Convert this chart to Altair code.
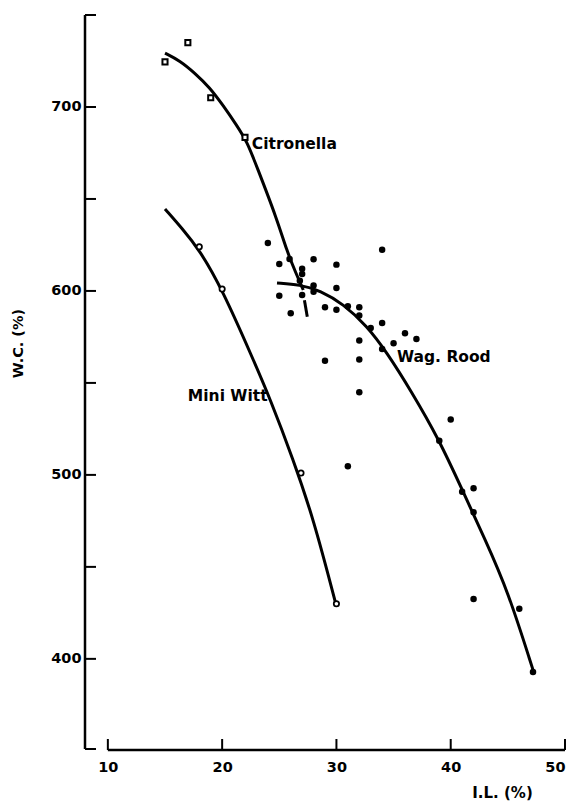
import altair as alt
import pandas as pd

# ---- data ----
# Citronella (open squares)
cit_x = [15.0, 17.0, 19.0, 22.0]
cit_y = [724.5, 735.0, 705.0, 683.5]
cit_curve_x = [15.0, 16.3, 17.6, 18.9, 20.1, 21.3, 22.2, 23.0, 24.8, 25.65, 26.5, 27.1]
cit_curve_y = [729.3, 725.2, 718.5, 710.7, 700.7, 689.8, 680.8, 668.1, 639.1, 621.9, 609.0, 600.5]
cit_dash_x = [27.2, 27.45]
cit_dash_y = [595.0, 586.0]

# Mini Witt (open circles)
mw_x = [18.0, 20.0, 26.9, 30.0]
mw_y = [624.0, 601.0, 501.0, 430.0]
mw_curve_x = [15.0, 16.5, 18.0, 20.0, 22.7, 24.2, 26.2, 28.0, 29.9]
mw_curve_y = [644.6, 634.0, 622.5, 601.0, 563.0, 541.3, 508.7, 476.0, 431.0]

# Wag. Rood (filled dots)
wr_x = [24.0, 25.0, 25.9, 28.0, 30.0, 27.0, 27.0, 26.8, 28.0, 28.0, 30.0, 25.0, 27.0,
        26.0, 29.0, 30.0, 31.0, 32.0, 32.0, 32.0, 29.0, 32.0, 34.0, 33.0, 34.0, 36.0,
        37.0, 35.0, 34.0, 32.0, 40.0, 39.0, 41.0, 42.0, 42.0, 42.0, 46.0, 47.2, 31.0]
wr_y = [626.0, 614.7, 617.4, 617.2, 614.3, 612.0, 609.2, 605.6, 602.9, 599.5, 601.6, 597.4, 597.8,
        587.9, 591.1, 589.8, 591.7, 591.1, 586.6, 573.0, 562.1, 562.7, 622.4, 579.9, 582.6, 577.0,
        573.9, 571.6, 568.5, 544.9, 530.1, 518.6, 490.9, 492.8, 479.7, 432.6, 427.2, 392.8, 504.7]
wr_curve_x = [24.8, 26.8, 28.6, 30.6, 32.65, 34.4, 36.5, 39.0, 41.0, 43.0, 45.0, 47.2]
wr_curve_y = [604.3, 603.4, 600.2, 592.9, 581.1, 566.7, 546.0, 519.0, 492.0, 465.0, 437.0, 394.0]

# labels
lab_text = ["Citronella", "Mini Witt", "Wag. Rood"]
lab_x = [22.6, 17.0, 35.3]
lab_y = [680.0, 543.0, 564.0]

x_ticks = [10, 20, 30, 40, 50]
y_ticks = [351, 400, 450, 500, 550, 600, 650, 700, 750]
y_labels = [400, 500, 600, 700]

X_DOM = [8, 50]
Y_DOM = [351, 750]
W, H = 480, 734
FONT = "DejaVu Sans"

xs = alt.Scale(domain=X_DOM, nice=False, zero=False)
ys = alt.Scale(domain=Y_DOM, nice=False, zero=False)

x_axis = alt.Axis(values=x_ticks, domain=False, ticks=False, tickSize=0, grid=False,
                  labelPadding=11, labelFont=FONT, labelFontSize=14.5, labelFontWeight="bold",
                  labelColor="black", title="I.L. (%)", titleFont=FONT, titleFontSize=15,
                  titleFontWeight="bold", titleColor="black", titleX=417, titleY=43,
                  titleAlign="center", titleBaseline="middle")
y_axis = alt.Axis(values=y_labels, domain=False, ticks=False, tickSize=0, grid=False,
                  labelPadding=4, labelFont=FONT, labelFontSize=14.5, labelFontWeight="bold",
                  labelColor="black", title="W.C. (%)", titleFont=FONT, titleFontSize=14.5,
                  titleFontWeight="bold", titleColor="black", titleAngle=270, titleX=-67,
                  titleY=328, titleAlign="center", titleBaseline="middle")


def X(f="x"):
    return alt.X(f, type="quantitative", scale=xs, axis=x_axis)


def Y(f="y"):
    return alt.Y(f, type="quantitative", scale=ys, axis=y_axis)


def curve(xv, yv):
    return pd.DataFrame({"x": xv, "y": yv, "o": list(range(len(xv)))})


wr_pts = alt.Chart(pd.DataFrame({"x": wr_x, "y": wr_y})).mark_circle(
    size=42, color="black", opacity=1).encode(x=X(), y=Y())

wr_line = alt.Chart(curve(wr_curve_x, wr_curve_y)).mark_line(
    color="black", strokeWidth=3, interpolate="basis").encode(x=X(), y=Y(), order="o:Q")
cit_line = alt.Chart(curve(cit_curve_x, cit_curve_y)).mark_line(
    color="black", strokeWidth=3, interpolate="basis").encode(x=X(), y=Y(), order="o:Q")
cit_dash = alt.Chart(curve(cit_dash_x, cit_dash_y)).mark_line(
    color="black", strokeWidth=3).encode(x=X(), y=Y(), order="o:Q")
mw_line = alt.Chart(curve(mw_curve_x, mw_curve_y)).mark_line(
    color="black", strokeWidth=3, interpolate="basis").encode(x=X(), y=Y(), order="o:Q")

cit_pts = alt.Chart(pd.DataFrame({"x": cit_x, "y": cit_y})).mark_point(
    shape="square", size=26, filled=True, fill="white", stroke="black", strokeWidth=2,
    opacity=1).encode(x=X(), y=Y())
mw_pts = alt.Chart(pd.DataFrame({"x": mw_x, "y": mw_y})).mark_point(
    shape="circle", size=28, filled=True, fill="white", stroke="black", strokeWidth=1.8,
    opacity=1).encode(x=X(), y=Y())

labels = alt.Chart(pd.DataFrame({"x": lab_x, "y": lab_y, "t": lab_text})).mark_text(
    align="left", baseline="middle", font=FONT, fontSize=15.5, fontWeight="bold",
    color="black").encode(x=X(), y=Y(), text="t:N")

# axis lines and inward ticks
y_axis_line = alt.Chart(pd.DataFrame({"a": [0]})).mark_rule(
    color="black", strokeWidth=2.5).encode(x=alt.value(0), y=alt.value(0), y2=alt.value(H))
x_axis_line = alt.Chart(pd.DataFrame({"x": [x_ticks[0]], "x2": [x_ticks[-1]]})).mark_rule(
    color="black", strokeWidth=2.5).encode(x=X(), x2="x2:Q", y=alt.value(H + 1))
y_tick_rules = alt.Chart(pd.DataFrame({"y": y_ticks})).mark_rule(
    color="black", strokeWidth=2).encode(y=Y(), x=alt.value(0), x2=alt.value(11))
x_tick_rules = alt.Chart(pd.DataFrame({"x": x_ticks})).mark_rule(
    color="black", strokeWidth=2).encode(x=X(), y=alt.value(H + 1), y2=alt.value(H - 10))

chart = alt.layer(
    wr_pts, wr_line, cit_line, cit_dash, mw_line, cit_pts, mw_pts, labels,
    y_axis_line, x_axis_line, y_tick_rules, x_tick_rules
).properties(
    width=W, height=H,
    autosize=alt.AutoSizeParams(type="none"),
    padding={"left": 85, "top": 15, "right": 13, "bottom": 52},
    background="white",
).configure_view(stroke=None)

chart.save("out.html", embed_options={"renderer": "svg", "actions": False})
